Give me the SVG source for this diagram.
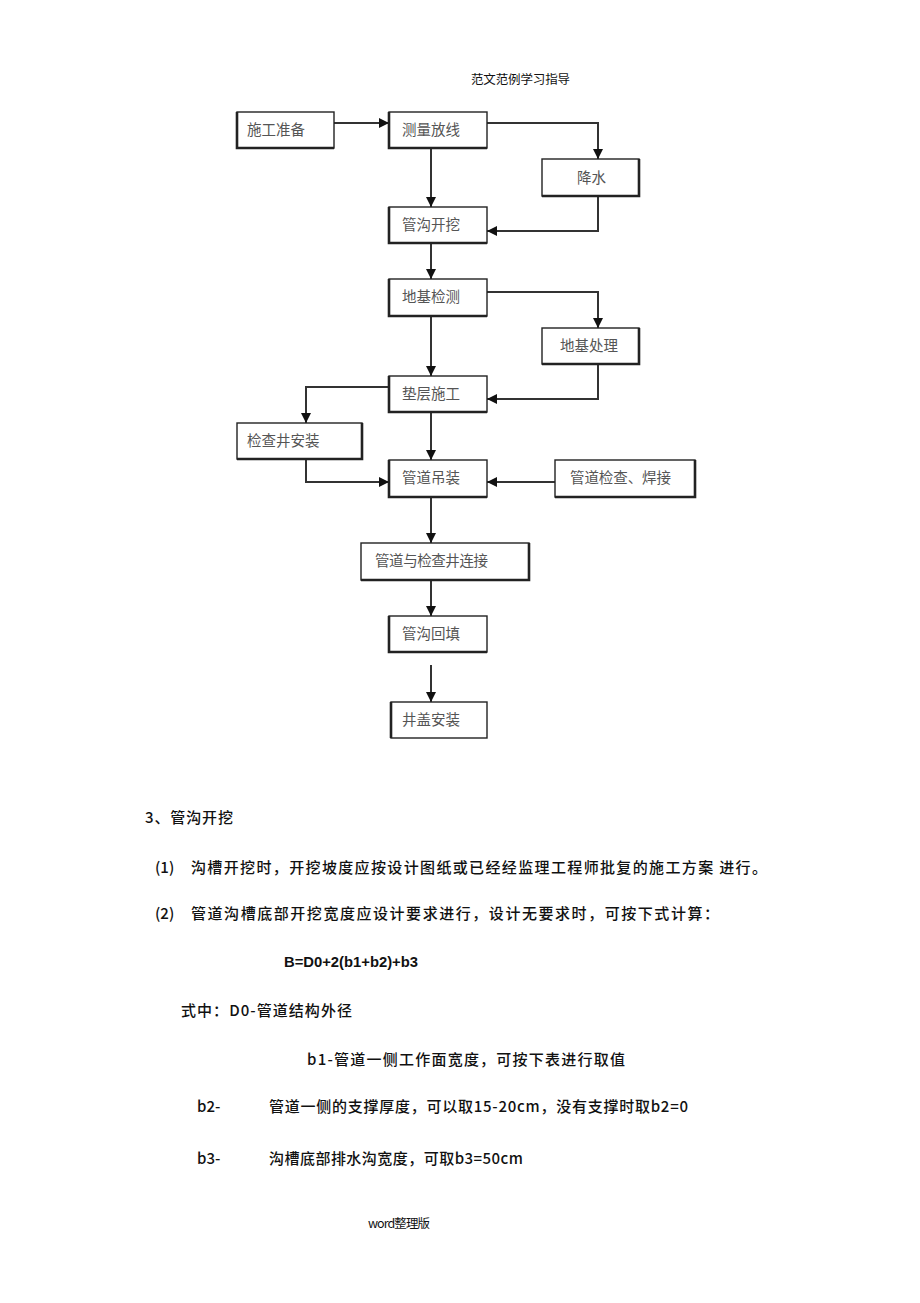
<svg xmlns="http://www.w3.org/2000/svg" width="920" height="1303" viewBox="0 0 920 1303">
<style>
.box{fill:#fff;stroke:#222;stroke-width:1.4}
.sh{fill:none;stroke:#222;stroke-width:2.6}
.bt{font-family:"Noto Sans CJK SC","Noto Sans",sans-serif;font-size:14.5px;fill:#555}
.ln{fill:none;stroke:#333;stroke-width:2}
.tx{font-family:"Noto Sans CJK SC","Noto Sans",sans-serif;font-size:15px;font-weight:500;fill:#111}
.hd{font-family:"Noto Sans CJK SC","Noto Sans",sans-serif;font-size:12.5px;fill:#111}
</style>
<rect width="920" height="1303" fill="#fff"/>
<text class="hd" x="471" y="84" textLength="99">范文范例学习指导</text>

<g id="connectors">
<path class="ln" d="M334,123 H389"/>
<path class="ln" d="M487,123 H598 V159"/>
<path class="ln" d="M431,148 V207"/>
<path class="ln" d="M598,196 V231 H487"/>
<path class="ln" d="M431,243 V279"/>
<path class="ln" d="M487,292 H598 V328"/>
<path class="ln" d="M431,316 V376"/>
<path class="ln" d="M598,364 V399 H487"/>
<path class="ln" d="M389,387 H306 V423"/>
<path class="ln" d="M431,412 V460"/>
<path class="ln" d="M306,459 V482 H389"/>
<path class="ln" d="M555,482 H487"/>
<path class="ln" d="M431,497 V543"/>
<path class="ln" d="M431,580 V616"/>
<path class="ln" d="M431,665 V702"/>
<g fill="#111">
<path d="M389,123 l-10,-5 v10 z"/>
<path d="M598,159 l-5,-10 h10 z"/>
<path d="M431,207 l-5,-10 h10 z"/>
<path d="M487,231 l10,-5 v10 z"/>
<path d="M431,279 l-5,-10 h10 z"/>
<path d="M598,328 l-5,-10 h10 z"/>
<path d="M431,376 l-5,-10 h10 z"/>
<path d="M487,399 l10,-5 v10 z"/>
<path d="M306,423 l-5,-10 h10 z"/>
<path d="M431,460 l-5,-10 h10 z"/>
<path d="M389,482 l-10,-5 v10 z"/>
<path d="M487,482 l10,-5 v10 z"/>
<path d="M431,543 l-5,-10 h10 z"/>
<path d="M431,616 l-5,-10 h10 z"/>
<path d="M431,702 l-5,-10 h10 z"/>
</g>
</g>

<g id="n1"><rect class="box" x="237" y="112" width="97" height="36"/><path class="sh" d="M237,112 V148 H334"/><text class="bt" x="247" y="135">施工准备</text></g>
<g id="n2"><rect class="box" x="389" y="112" width="98" height="36"/><path class="sh" d="M389,112 V148 H487"/><text class="bt" x="402" y="135">测量放线</text></g>
<g id="n3"><rect class="box" x="542" y="159" width="97" height="37"/><path class="sh" d="M639,159 V196 H542"/><text class="bt" x="577" y="183">降水</text></g>
<g id="n4"><rect class="box" x="389" y="207" width="98" height="36"/><path class="sh" d="M389,207 V243 H487"/><text class="bt" x="402" y="230">管沟开挖</text></g>
<g id="n5"><rect class="box" x="389" y="279" width="98" height="37"/><path class="sh" d="M389,279 V316 H487"/><text class="bt" x="402" y="302">地基检测</text></g>
<g id="n6"><rect class="box" x="542" y="328" width="97" height="36"/><path class="sh" d="M639,328 V364 H542"/><text class="bt" x="560" y="351">地基处理</text></g>
<g id="n7"><rect class="box" x="389" y="376" width="98" height="36"/><path class="sh" d="M389,376 V412 H487"/><text class="bt" x="402" y="399">垫层施工</text></g>
<g id="n8"><rect class="box" x="237" y="423" width="125" height="36"/><path class="sh" d="M362,423 V459 H237"/><text class="bt" x="247" y="446">检查井安装</text></g>
<g id="n9"><rect class="box" x="389" y="460" width="98" height="37"/><path class="sh" d="M389,460 V497 H487"/><text class="bt" x="402" y="483">管道吊装</text></g>
<g id="n10"><rect class="box" x="555" y="460" width="140" height="37"/><path class="sh" d="M695,460 V497 H555"/><text class="bt" x="570" y="483" textLength="101">管道检查、焊接</text></g>
<g id="n11"><rect class="box" x="361" y="543" width="168" height="37"/><path class="sh" d="M529,543 V580 H361"/><text class="bt" x="375" y="566" textLength="113">管道与检查井连接</text></g>
<g id="n12"><rect class="box" x="389" y="616" width="98" height="36"/><path class="sh" d="M389,616 V652 H487"/><text class="bt" x="402" y="639">管沟回填</text></g>
<g id="n13"><rect class="box" x="391" y="702" width="96" height="36"/><path class="sh" d="M391,702 V738"/><text class="bt" x="402" y="725">井盖安装</text></g>

<text class="tx" x="145" y="823" textLength="88">3、管沟开挖</text>
<text class="tx" x="155" y="873">(1)</text>
<text class="tx" x="191" y="873" textLength="576">沟槽开挖时，开挖坡度应按设计图纸或已经经监理工程师批复的施工方案 进行。</text>
<text class="tx" x="155" y="919">(2)</text>
<text class="tx" x="191" y="919" textLength="528">管道沟槽底部开挖宽度应设计要求进行，设计无要求时，可按下式计算：</text>
<text x="284" y="967" textLength="134" lengthAdjust="spacingAndGlyphs" style="font-family:'Liberation Sans',sans-serif;font-weight:bold;font-size:15px;fill:#111">B=D0+2(b1+b2)+b3</text>
<text class="tx" x="181" y="1016" textLength="171">式中：D0-管道结构外径</text>
<text class="tx" x="307" y="1065" textLength="318">b1-管道一侧工作面宽度，可按下表进行取值</text>
<text class="tx" x="197" y="1112">b2-</text>
<text class="tx" x="269" y="1112" textLength="419">管道一侧的支撑厚度，可以取15-20cm，没有支撑时取b2=0</text>
<text class="tx" x="197" y="1164">b3-</text>
<text class="tx" x="269" y="1164" textLength="254">沟槽底部排水沟宽度，可取b3=50cm</text>
<text class="hd" x="368" y="1228" textLength="62">word整理版</text>
</svg>
